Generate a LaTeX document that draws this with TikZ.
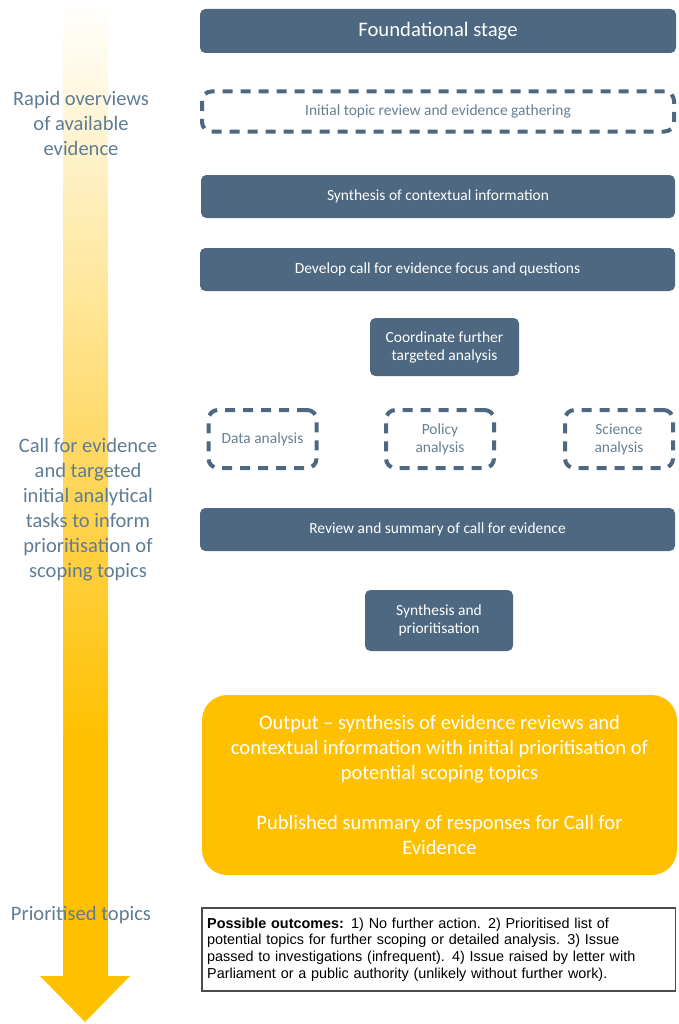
\documentclass[tikz,border=0pt]{standalone}
\usepackage{fontspec}
\setmainfont{Carlito}
\newfontfamily\arialfont{Liberation Sans}
\usepackage{tikz}

\definecolor{slate}{HTML}{4D6880}
\definecolor{sidetext}{HTML}{5E7C95}
\definecolor{dashtext}{HTML}{657F95}
\definecolor{amber}{HTML}{FFC000}

\tikzset{
  stagebox/.style={fill=slate, rounded corners=4pt, text=white, align=center,
    font=\fontsize{11.6}{13.5}\selectfont, inner sep=0pt},
  dashbox/.style={draw=slate, line width=3pt, dash pattern=on 7.5pt off 6pt,
    rounded corners=7pt, text=dashtext, align=center,
    font=\fontsize{11.6}{13.5}\selectfont, inner sep=0pt},
  sidelabel/.style={text=sidetext, align=center, font=\fontsize{15.4}{18.75}\selectfont}
}

\begin{document}
\begin{tikzpicture}[x=0.75pt,y=-0.75pt]

\useasboundingbox (0,0) rectangle (678,1024);

% Arrow
\shade[top color=white, middle color=amber!40, bottom color=amber] (63,0) rectangle (108,740);
\fill[amber] (63,739) rectangle (108,977);
\fill[amber] (40,976) -- (130,976) -- (85,1022) -- cycle;

% Side labels
\node[sidelabel] (rapid) at (81,123) {Rapid overviews\\of available\\evidence};
\node[sidelabel] (call) at (88,510) {Call for evidence\\and targeted\\initial analytical\\tasks to inform\\prioritisation of\\scoping topics};
\node[sidelabel] (prio) at (81,915) {Prioritised topics};

% Stages
\node[stagebox, minimum width=357pt, minimum height=33pt,
  font=\fontsize{15.5}{17}\selectfont] (found) at (438,31) {Foundational stage};
\node[dashbox, minimum width=354pt, minimum height=30pt] (review) at (438,111.5)
  {Initial topic review and evidence gathering};
\node[stagebox, minimum width=355.5pt, minimum height=32.25pt] (synth) at (438,196.5)
  {Synthesis of contextual information};
\node[stagebox, minimum width=356.25pt, minimum height=32.25pt] (develop) at (437.5,269.5)
  {Develop call for evidence focus and questions};
\node[stagebox, minimum width=111.75pt, minimum height=43.5pt] (coord) at (444.5,347)
  {Coordinate further\\targeted analysis};

% Targeted analyses
\foreach \name/\x/\txt in {data/262.5/Data analysis, policy/440/Policy\\analysis, science/619/Science\\analysis}
{
\node[dashbox, minimum width=81pt, minimum height=43.5pt] (\name) at (\x,439) {\txt};
}

\node[stagebox, minimum width=356.25pt, minimum height=32.25pt] (summary) at (437.5,529.5)
  {Review and summary of call for evidence};
\node[stagebox, minimum width=111pt, minimum height=45.75pt] (prior) at (439,620.5)
  {Synthesis and\\prioritisation};

% Output
\node[fill=amber, rounded corners=19pt, text=white, align=center,
  font=\fontsize{15.4}{18.75}\selectfont, minimum width=356.25pt, minimum height=135pt,
  inner sep=0pt] (output) at (439.5,785)
  {Output -- synthesis of evidence reviews and\\contextual information with initial prioritisation of\\potential scoping topics\\[18.75pt]Published summary of responses for Call for\\Evidence};

% Possible outcomes
\node[draw=black!70, line width=0.8pt, align=left, font=\arialfont\fontsize{10.8}{12.6}\selectfont,
  text width=347pt, minimum height=62.25pt, inner xsep=3.9pt, inner ysep=0pt] (outcomes) at (438.5,949.5)
  {\textbf{Possible outcomes:} 1) No further action. 2) Prioritised list of\\
   potential topics for further scoping or detailed analysis. 3) Issue\\
   passed to investigations (infrequent). 4) Issue raised by letter with\\
   Parliament or a public authority (unlikely without further work).};

\end{tikzpicture}
\end{document}
